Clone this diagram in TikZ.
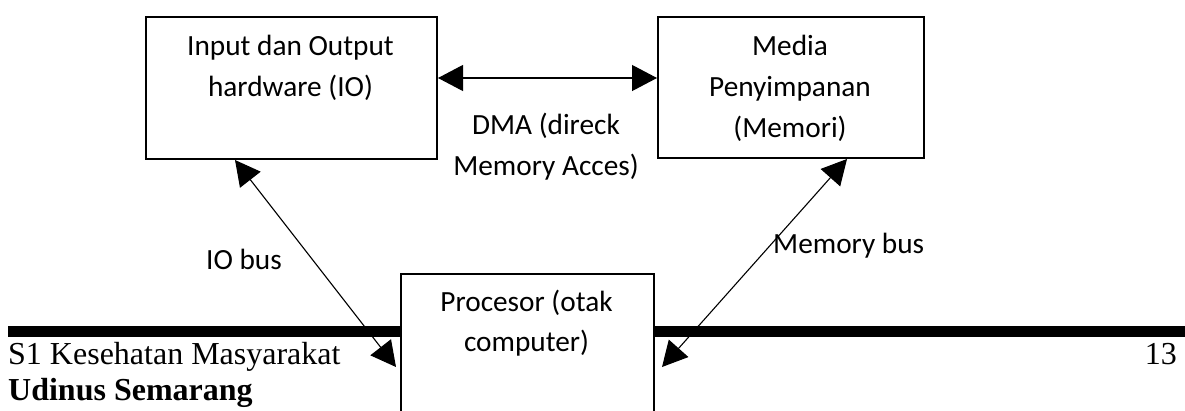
\documentclass[tikz,border=0pt]{standalone}
\usepackage{fontspec}
\setmainfont{Liberation Serif}
\newfontfamily\carlito{Carlito}
\usetikzlibrary{arrows.meta}
\begin{document}
\begin{tikzpicture}[x=1pt,y=-1pt,
  box/.style={draw, line width=2pt, fill=white, inner sep=0pt, anchor=north west},
  lbl/.style={font=\carlito\fontsize{29.3}{41}\selectfont, anchor=base, inner sep=0pt},
  foot/.style={font=\fontsize{32}{37}\selectfont, anchor=base west, inner sep=0pt},
  tip/.tip={Triangle[length=25pt,width=26pt]},
  conn/.style={line width=1.1pt, tip-tip}]
\useasboundingbox (0,0) rectangle (1185,410);
\clip (0,0) rectangle (1185,410);
% footer rule
\fill (8,326) rectangle (1185,337);
% boxes
\node[box, minimum width=291pt, minimum height=142.5pt] (io) at (145,15.5) {};
\node[box, minimum width=266pt, minimum height=141.5pt] (mem) at (657,15.5) {};
\node[box, minimum width=253pt, minimum height=160pt] (proc) at (400,273) {};
% box texts
\node[lbl] (t1) at (290.5,55) {Input dan Output};
\node[lbl] (t2) at (290.5,96) {hardware (IO)};
\node[lbl] (m1) at (790,55) {Media};
\node[lbl] (m2) at (790,96) {Penyimpanan};
\node[lbl] (m3) at (790,137) {(Memori)};
\node[lbl] (p1) at (526.5,311.5) {Procesor (otak};
\node[lbl] (p2) at (526.5,351.5) {computer)};
% connector labels
\node[lbl] (d1) at (546,134) {DMA (direck};
\node[lbl] (d2) at (546,175) {Memory Acces)};
\node[lbl] (iob) at (244,269) {IO bus};
\node[lbl, anchor=base west] (memb) at (773,253) {Memory bus};
% connectors
\draw[conn] ([yshift=9.75pt]io.east) -- ([yshift=9.25pt]mem.west);
\draw[conn] ([xshift=-4pt,yshift=-94pt]proc.north west) -- ([xshift=90pt]io.south west);
\draw[conn] ([xshift=7pt,yshift=-94pt]proc.north east) -- ([xshift=190pt]mem.south west);
% footer texts
\node[foot] (f1) at (8,364) {S1 Kesehatan Masyarakat};
\node[foot, font=\fontsize{32}{37}\selectfont\bfseries] (f2) at (8,400) {Udinus Semarang};
\node[foot, anchor=base east] (pg) at (1177,364) {13};
\end{tikzpicture}
\end{document}
